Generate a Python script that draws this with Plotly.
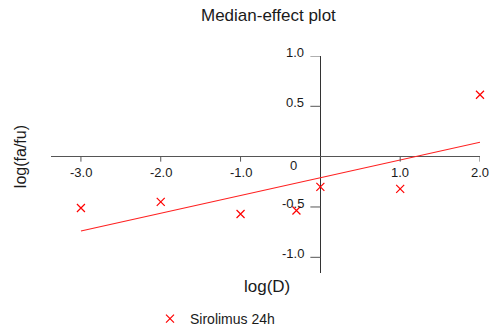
import plotly.graph_objects as go

# Median-effect data: log(D) vs log(fa/fu)
log_d = [-3.0, -2.0, -1.0, -0.3, 0.0, 1.0, 2.0]
log_fa_fu = [-0.51, -0.45, -0.57, -0.535, -0.30, -0.32, 0.615]

# Fitted median-effect line (end points)
fit_x = [-3.0, 2.0]
fit_y = [-0.739, 0.143]

x_ticks = [-3.0, -2.0, -1.0, 1.0, 2.0]
x_tick_labels = ["-3.0", "-2.0", "-1.0", "1.0", "2.0"]
y_ticks = [1.0, 0.5, -0.5, -1.0]
y_tick_labels = ["1.0", "0.5", "-0.5", "-1.0"]

series_name = "Sirolimus 24h"
FONT = "Liberation Sans, Arial, sans-serif"
TXT = "#1a1a1a"
AX = "#555555"
W, H = 492, 335

fig = go.Figure()
fig.add_trace(go.Scatter(
    x=fit_x, y=fit_y, mode="lines",
    line=dict(color="#ff2020", width=1.2),
    showlegend=False, hoverinfo="skip",
))
fig.add_trace(go.Scatter(
    x=log_d, y=log_fa_fu, mode="markers", name=series_name,
    marker=dict(symbol="x-thin", size=8, color="red",
                line=dict(color="red", width=1.2)),
    cliponaxis=False,
))

annotations = []
shapes = []
for v, t in zip(x_ticks, x_tick_labels):
    annotations.append(dict(x=v, y=0, xref="x", yref="y", text=t, showarrow=False,
                            xanchor="center", yanchor="top", yshift=-6,
                            font=dict(family=FONT, size=13, color=TXT)))
    shapes.append(dict(type="line", xref="x", yref="y", ysizemode="pixel", yanchor=0,
                       x0=v, x1=v, y0=-5, y1=0, line=dict(color=AX, width=1)))
# origin label sits left of the vertical axis
annotations.append(dict(x=0, y=0, xref="x", yref="y", text="0", showarrow=False,
                        xanchor="center", yanchor="middle", xshift=-27, yshift=-9,
                        font=dict(family=FONT, size=13, color=TXT)))
for v, t in zip(y_ticks, y_tick_labels):
    annotations.append(dict(x=0, y=v, xref="x", yref="y", text=t, showarrow=False,
                            xanchor="right", yanchor="middle", xshift=-14, yshift=3.5,
                            font=dict(family=FONT, size=13, color=TXT)))
    shapes.append(dict(type="line", xref="x", yref="y", xsizemode="pixel", xanchor=0,
                       x0=-10, x1=0, y0=v, y1=v, line=dict(color=AX, width=1)))

annotations.append(dict(x=267 / W, y=1 - 292 / H, xref="paper", yref="paper", text="log(D)",
                        showarrow=False, xanchor="center", yanchor="middle",
                        font=dict(family=FONT, size=17, color=TXT)))
annotations.append(dict(x=20 / W, y=1 - 160 / H, xref="paper", yref="paper", text="log(fa/fu)",
                        showarrow=False, xanchor="center", yanchor="middle", textangle=-90,
                        font=dict(family=FONT, size=16, color=TXT)))
annotations.append(dict(x=268 / W, y=1 - 16 / H, xref="paper", yref="paper",
                        text="Median-effect plot", showarrow=False,
                        xanchor="center", yanchor="middle",
                        font=dict(family=FONT, size=17, color=TXT)))

fig.update_layout(
    width=W, height=H,
    margin=dict(l=0, r=0, t=0, b=0),
    paper_bgcolor="white", plot_bgcolor="white",
    xaxis=dict(domain=[51 / W, 480 / W], range=[-3.375, 2.0], showgrid=False,
               showticklabels=False, ticks="", zeroline=True, zerolinecolor="#333333",
               zerolinewidth=1, showline=False),
    yaxis=dict(domain=[1 - 278 / H, 1 - 57 / H], range=[-1.156, 1.0], showgrid=False,
               showticklabels=False, ticks="", zeroline=True, zerolinecolor=AX,
               zerolinewidth=1, showline=False),
    showlegend=True,
    legend=dict(x=150 / W, y=1 - 325 / H, xanchor="left", yanchor="middle",
                font=dict(family=FONT, size=14, color=TXT), itemwidth=30,
                bgcolor="rgba(0,0,0,0)"),
    annotations=annotations,
    shapes=shapes,
)

fig.write_html("out.html")
